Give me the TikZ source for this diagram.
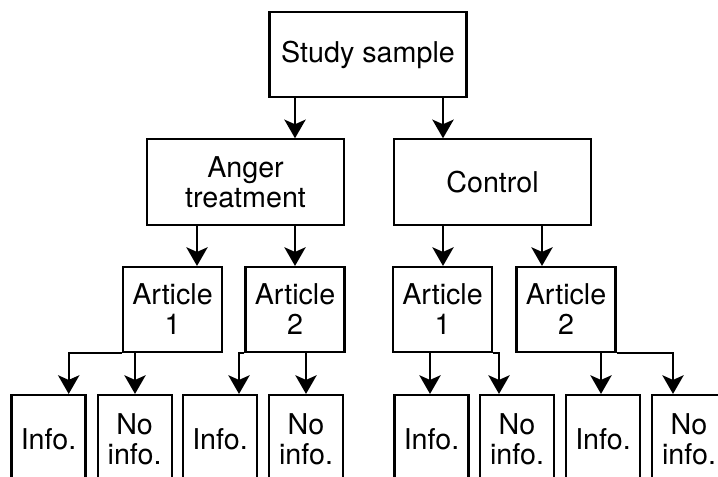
\documentclass[tikz,border=0pt]{standalone}
\usepackage{fontspec}
\setmainfont{TeX Gyre Heros}
\usetikzlibrary{arrows.meta}
\tikzset{
  x=0.75pt, y=-0.75pt,
  box/.style={draw, line width=1.6pt, rectangle, inner sep=0pt, align=center,
    font=\fontsize{21.5}{22.5}\selectfont},
  bigbox/.style={box, minimum width=147.75pt, minimum height=64pt},
  artbox/.style={box, minimum width=74.25pt, minimum height=63.75pt},
  leafbox/.style={box, minimum width=55.5pt, minimum height=66pt},
  arr/.style={line width=1.6pt, -{Stealth[length=14pt, width=16pt, inset=3.5pt]}}
}
\begin{document}
\begin{tikzpicture}
\useasboundingbox (0,0) rectangle (718,477);
\clip (0,0) rectangle (718,477);
\fill[white] (0,0) rectangle (718,477);
% nodes
\node[bigbox] (ss) at (368,54.5) {Study sample};
\node[bigbox] (an) at (245.5,182) {Anger\\treatment};
\node[bigbox] (co) at (492.5,182) {Control};
\node[artbox] (a1) at (172.5,309.5) {Article\\1};
\node[artbox] (a2) at (295,309.5) {Article\\2};
\node[artbox] (c1) at (442.5,309.5) {Article\\1};
\node[artbox] (c2) at (566,309.5) {Article\\2};
\node[leafbox] (b1) at (48.5,439) {Info.};
\node[leafbox] (b2) at (134.6,439) {No\\info.};
\node[leafbox] (b3) at (220,439) {Info.};
\node[leafbox] (b4) at (306,439) {No\\info.};
\node[leafbox] (b5) at (431.5,439) {Info.};
\node[leafbox] (b6) at (517,439) {No\\info.};
\node[leafbox] (b7) at (603,439) {Info.};
\node[leafbox] (b8) at (689,439) {No\\info.};
% column coordinates
\coordinate (x295) at (295,0);
\coordinate (x443) at (443,0);
\coordinate (x197) at (197,0);
\coordinate (x542) at (542,0);
\coordinate (x69) at (68.7,0);
\coordinate (x135) at (135,0);
\coordinate (x239) at (239,0);
\coordinate (x306) at (306,0);
\coordinate (x430) at (430,0);
\coordinate (x499) at (499,0);
\coordinate (x601) at (601,0);
\coordinate (x673) at (673,0);
% connectors
\draw[arr] (ss.south -| x295) -- (an.north -| x295);
\draw[arr] (ss.south -| x443) -- (co.north -| x443);
\draw[arr] (an.south -| x197) -- (a1.north -| x197);
\draw[arr] (an.south -| x295) -- (a2.north -| x295);
\draw[arr] (co.south -| x443) -- (c1.north -| x443);
\draw[arr] (co.south -| x542) -- (c2.north -| x542);
\draw[arr] (a1.south west) -| (b1.north -| x69);
\draw[arr] (a1.south -| x135) -- (b2.north -| x135);
\draw[arr] (a2.south west) -| (b3.north -| x239);
\draw[arr] (a2.south -| x306) -- (b4.north -| x306);
\draw[arr] (c1.south -| x430) -- (b5.north -| x430);
\draw[arr] (c1.south east) -| (b6.north -| x499);
\draw[arr] (c2.south -| x601) -- (b7.north -| x601);
\draw[arr] (c2.south east) -| (b8.north -| x673);
\end{tikzpicture}
\end{document}
